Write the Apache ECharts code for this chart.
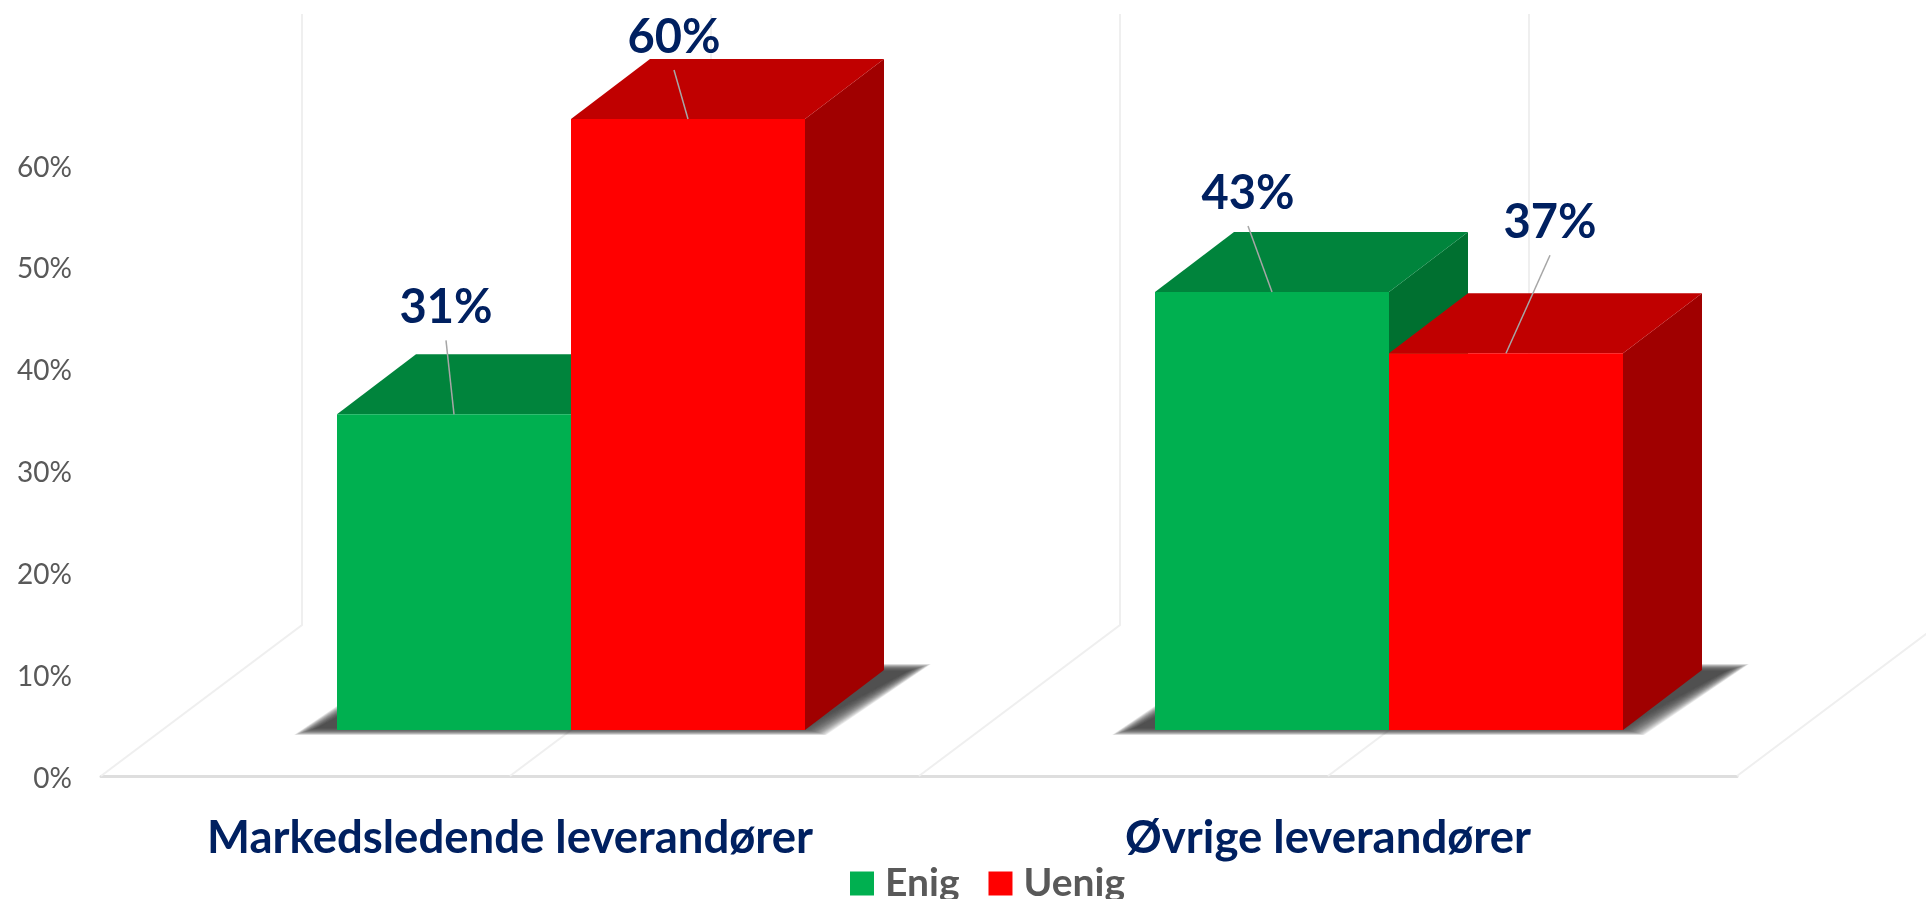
<!DOCTYPE html>
<html>
<head>
<meta charset="utf-8">
<style>
	html, body { margin: 0; padding: 0; background: #fff; }
	#chart { width: 1926px; height: 899px; }
</style>
</head>
<body>
<div id="chart"></div>
<script src="https://cdn.jsdelivr.net/npm/echarts@6/dist/echarts.min.js"></script>
<script>
const categories = ['Markedsledende leverandører', 'Øvrige leverandører'];
const enig = [31, 43];
const uenig = [60, 37];
const yTicks = [0, 10, 20, 30, 40, 50, 60];

// leader line end, relative to the top centre of the bar's front face
const enigLeader = [[-8, -74], [-24, -66]];
const uenigLeader = [[-14, -49], [44, -98]];

const font = 'Lato, Carlito, sans-serif';
const navy = '#002060';
const grey = '#595959';

// 3D look: floor depth, bar depth, bar width (px)
const floorDepth = [201, -151];
const barDepth = [79, -60];
const barOffset = [61, -46]; // front of the bars sits this far into the floor
const barWidth = 234;

function renderWalls(params, api) {
	const center = api.coord([api.value(0), 0]);
	const band = api.size([1, 0])[0];
	const top = api.coord([api.value(0), 60]);
	const xs = [center[0] - band / 2, center[0]];
	if (params.dataIndex === categories.length - 1) xs.push(center[0] + band / 2);
	const children = xs.map(function (x) {
		return {
			type: 'polyline',
			shape: {
				points: [
					[x, center[1]],
					[x + floorDepth[0], center[1] + floorDepth[1]],
					[x + floorDepth[0], top[1] + floorDepth[1]]
				]
			},
			style: { stroke: '#efefef', lineWidth: 2, fill: null }
		};
	});
	// soft shadow under both bars, stacked see-through layers fake the blur
	const baseX = center[0] + barOffset[0];
	const baseY = center[1] + barOffset[1];
	const slant = 105;
	for (let g = 20; g >= -4; g -= 1) {
		const left = baseX - barWidth - 23 - g;
		const right = baseX + 1 + barWidth + g;
		const bottom = baseY - 1 + g * 0.3;
		const back = baseY + barDepth[1] - g * 0.3;
		children.push({
			type: 'polygon',
			shape: {
				points: [[left, bottom], [right, bottom], [right + slant, back], [left + slant, back]]
			},
			style: { fill: 'rgba(64,64,64,0.09)' }
		});
	}
	return { type: 'group', children: children };
}

function makeBar(side, front, topFace, sideFace, leaders) {
	return function (params, api) {
		const base = api.coord([api.value(0), 0]);
		const top = api.coord([api.value(0), api.value(1)]);
		const x0 = base[0] + barOffset[0] + (side < 0 ? -barWidth : 0);
		const x1 = x0 + barWidth;
		const y0 = base[1] + barOffset[1];
		const y1 = top[1] + barOffset[1];
		const dx = barDepth[0];
		const dy = barDepth[1];
		const midX = (x0 + x1) / 2;
		const lead = leaders[params.dataIndex];
		const endX = midX + lead[0];
		const endY = y1 + lead[1];
		return {
			type: 'group',
			children: [
				{
					type: 'polygon',
					shape: { points: [[x1, y0], [x1 + dx, y0 + dy], [x1 + dx, y1 + dy], [x1, y1]] },
					style: { fill: sideFace }
				},
				{
					type: 'polygon',
					shape: { points: [[x0, y1], [x1, y1], [x1 + dx, y1 + dy], [x0 + dx, y1 + dy]] },
					style: { fill: topFace }
				},
				{
					type: 'rect',
					shape: { x: x0, y: y1, width: barWidth, height: y0 - y1 },
					style: { fill: front }
				},
				{
					type: 'line',
					shape: { x1: midX, y1: y1, x2: endX, y2: endY },
					style: { stroke: '#a6a6a6', lineWidth: 1.5 }
				},
				{
					type: 'text',
					style: {
						text: api.value(1) + '%',
						x: endX,
						y: endY - 32,
						align: 'center',
						verticalAlign: 'middle',
						fontFamily: font,
						fontWeight: 'bold',
						fontSize: 47,
						fill: navy
					}
				}
			]
		};
	};
}

const chart = echarts.init(document.getElementById('chart'));
chart.setOption({
	animation: false,
	backgroundColor: '#fff',
	grid: { left: 101, right: 189, top: 165, bottom: 123 },
	legend: {
		data: ['Enig', 'Uenig'],
		left: 850,
		top: 864,
		padding: 0,
		itemWidth: 24,
		itemHeight: 24,
		itemGap: 29,
		icon: 'rect',
		textStyle: { color: grey, fontFamily: font, fontWeight: 'bold', fontSize: 39, padding: [0, 0, 0, 6] }
	},
	xAxis: {
		type: 'category',
		data: categories,
		axisTick: { show: false },
		axisLine: { lineStyle: { color: '#dedede', width: 3 } },
		axisLabel: { color: navy, fontFamily: font, fontWeight: 'bold', fontSize: 45.5, margin: 39, interval: 0 }
	},
	yAxis: {
		type: 'value',
		min: yTicks[0],
		max: yTicks[yTicks.length - 1],
		interval: 10,
		axisLine: { show: false },
		axisTick: { show: false },
		splitLine: { show: false },
		axisLabel: { color: grey, fontFamily: font, fontSize: 28, margin: 29, verticalAlign: 'top', lineHeight: 5, formatter: '{value}%' }
	},
	series: [
		{
			type: 'custom',
			name: 'floor',
			silent: true,
			renderItem: renderWalls,
			data: categories.map(function (c, i) { return [i, 0]; })
		},
		{
			type: 'custom',
			name: 'Enig',
			itemStyle: { color: '#00B050' },
			renderItem: makeBar(-1, '#00B050', '#00843C', '#007030', enigLeader),
			encode: { x: 0, y: 1 },
			data: enig.map(function (v, i) { return [i, v]; })
		},
		{
			type: 'custom',
			name: 'Uenig',
			itemStyle: { color: '#FF0000' },
			renderItem: makeBar(1, '#FF0000', '#C00000', '#A00000', uenigLeader),
			encode: { x: 0, y: 1 },
			data: uenig.map(function (v, i) { return [i, v]; })
		}
	]
});
</script>
</body>
</html>
